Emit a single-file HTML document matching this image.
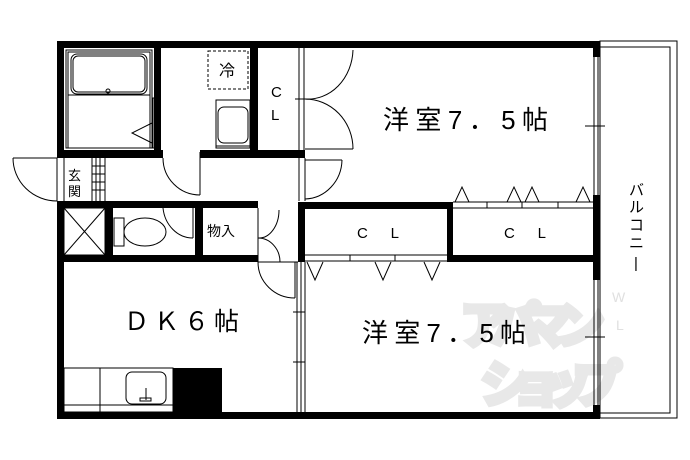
<!DOCTYPE html>
<html><head><meta charset="utf-8"><style>
html,body{margin:0;padding:0;background:#fff;}
svg{display:block;}
text{font-family:"Liberation Sans","Noto Sans CJK JP",sans-serif;fill:#000;}
</style></head><body>
<svg width="690" height="460" viewBox="0 0 690 460" xmlns="http://www.w3.org/2000/svg">
<!-- watermark -->
<g>
<text x="460" y="343" font-size="50" font-weight="bold" style="fill:#e8e8e8;stroke:#e8e8e8;stroke-width:5" textLength="145">アパマン</text>
<text x="480" y="402" font-size="50" font-weight="bold" style="fill:#e8e8e8;stroke:#e8e8e8;stroke-width:5" textLength="142">ショップ</text>
<text x="612" y="302" font-size="14" style="fill:#e0e0e0">W</text>
<text x="616" y="330" font-size="14" style="fill:#e0e0e0">L</text>
</g>
<!-- balcony -->
<rect x="600" y="41" width="77" height="377" fill="none" stroke="#000" stroke-width="1"/>
<rect x="600" y="47" width="70" height="366" fill="none" stroke="#000" stroke-width="1"/>
<g fill="#000">
<rect x="57" y="41" width="543" height="7"/>
<rect x="57" y="41" width="7" height="117"/>
<rect x="57" y="201" width="7" height="218"/>
<rect x="57" y="412" width="543" height="7"/>
<rect x="593" y="41" width="7" height="16"/>
<rect x="593" y="195" width="7" height="85"/>
<rect x="593" y="405" width="7" height="14"/>
<rect x="154" y="48" width="7" height="110"/>
<rect x="250" y="48" width="8" height="110"/>
<rect x="57" y="150" width="106" height="8"/>
<rect x="200" y="150" width="105" height="8"/>
<rect x="57" y="201" width="201" height="7"/>
<rect x="57" y="255" width="201" height="7"/>
<rect x="105" y="208" width="8" height="47"/>
<rect x="195" y="208" width="8" height="47"/>
<rect x="298" y="202" width="150" height="7"/>
<rect x="298" y="202" width="7" height="60"/>
<rect x="447" y="202" width="6" height="60"/>
<rect x="448" y="255" width="152" height="7"/>
<rect x="173" y="368" width="49" height="44"/>
</g>
<g fill="none" stroke="#000" stroke-width="1">
<line x1="594" y1="57" x2="594" y2="195"/><line x1="598" y1="57" x2="598" y2="195"/>
<line x1="594" y1="280" x2="594" y2="405"/><line x1="598" y1="280" x2="598" y2="405"/>
<line x1="585" y1="126" x2="605" y2="126"/><line x1="585" y1="337" x2="605" y2="337"/>
<rect x="66" y="50" width="86" height="98"/>
<rect x="68" y="52" width="82" height="96"/>
<rect x="71" y="54" width="76" height="40" rx="6"/>
<rect x="73" y="56" width="72" height="36" rx="5"/>
<circle cx="108" cy="91" r="2"/>
<line x1="68" y1="95" x2="150" y2="95"/>
<polyline points="152,123 132,133 152,143"/>
<rect x="153" y="98" width="4" height="50"/>
<rect x="208" y="51" width="40" height="38" stroke-dasharray="3,2"/>
<rect x="216" y="100" width="34" height="48"/>
<rect x="218" y="107" width="30" height="36" rx="6"/>
<line x1="216" y1="146" x2="250" y2="146"/>
<line x1="299" y1="48" x2="299" y2="150"/><line x1="304" y1="48" x2="304" y2="150"/>
<line x1="305" y1="99" x2="295" y2="99"/>
<path d="M305 99 A45 51 0 0 0 353 50"/>
<line x1="305" y1="149" x2="353" y2="149"/>
<path d="M305 99 A48 50 0 0 1 353 149"/>
<line x1="305" y1="158" x2="305" y2="201"/><line x1="299" y1="158" x2="299" y2="201"/>
<path d="M305 199 A38 40 0 0 0 342 160"/>
<line x1="305" y1="160" x2="342" y2="160"/>
<line x1="57" y1="158" x2="57" y2="201"/><line x1="64" y1="158" x2="64" y2="201"/>
<line x1="13" y1="158" x2="57" y2="158"/>
<path d="M13 158 A44 43 0 0 0 57 201"/>
<line x1="92" y1="158" x2="92" y2="201"/><line x1="96" y1="158" x2="96" y2="201"/><line x1="100" y1="158" x2="100" y2="201"/><line x1="105" y1="158" x2="105" y2="201"/>
<line x1="92" y1="166" x2="105" y2="166"/><line x1="92" y1="174" x2="105" y2="174"/><line x1="92" y1="182" x2="105" y2="182"/><line x1="92" y1="190" x2="105" y2="190"/>
<line x1="200" y1="152" x2="200" y2="195"/>
<path d="M163 158 A37 37 0 0 0 200 195"/>
<rect x="64" y="208" width="41" height="47"/>
<line x1="64" y1="208" x2="105" y2="255"/><line x1="105" y1="208" x2="64" y2="255"/>
<rect x="114" y="218" width="10" height="28"/>
<ellipse cx="145" cy="232" rx="21" ry="14"/>
<path d="M163 208 A30 34 0 0 0 193 238"/>
<line x1="193" y1="208" x2="193" y2="238"/>
<line x1="258" y1="208" x2="258" y2="262"/>
<path d="M258 238 A20 28 0 0 0 279 210"/>
<path d="M258 238 A22 24 0 0 1 280 262"/>
<line x1="453" y1="202" x2="593" y2="202"/><line x1="453" y1="208" x2="593" y2="208"/>
<line x1="487" y1="202" x2="487" y2="208"/><line x1="522" y1="202" x2="522" y2="208"/><line x1="558" y1="202" x2="558" y2="208"/>
<polyline points="455,202 462,187 469,202"/><polyline points="507,202 514,187 521,202"/><polyline points="525,202 532,187 539,202"/><polyline points="576,202 583,187 590,202"/>
<line x1="305" y1="255" x2="447" y2="255"/><line x1="305" y1="261" x2="447" y2="261"/>
<line x1="350" y1="255" x2="350" y2="261"/><line x1="395" y1="255" x2="395" y2="261"/>
<polyline points="307,262 315,280 323,262"/><polyline points="375,262 383,280 391,262"/><polyline points="424,262 432,280 440,262"/>
<line x1="297" y1="262" x2="297" y2="412"/><line x1="301" y1="262" x2="301" y2="412"/><line x1="305" y1="262" x2="305" y2="412"/>
<line x1="293" y1="312" x2="305" y2="312"/><line x1="293" y1="362" x2="305" y2="362"/>
<line x1="258" y1="262" x2="298" y2="262"/>
<line x1="295" y1="262" x2="295" y2="298"/>
<path d="M258 262 A37 36 0 0 0 295 298"/>
<rect x="64" y="368" width="109" height="44"/>
<line x1="100" y1="368" x2="100" y2="412"/>
<line x1="64" y1="405" x2="173" y2="405"/>
<rect x="126" y="372" width="40" height="32" rx="6"/>
<line x1="146" y1="388" x2="146" y2="400"/><rect x="140" y="398" width="11" height="3"/>
</g>
<text x="219" y="76" font-size="16">冷</text>
<text x="271" y="97" font-size="15">C</text>
<text x="271" y="120" font-size="15">L</text>
<text x="68" y="180" font-size="13">玄</text>
<text x="68" y="196" font-size="13">関</text>
<text x="207" y="236" font-size="14">物入</text>
<text x="383" y="129" font-size="26" textLength="165" lengthAdjust="spacing">洋室7．5帖</text>
<text x="362" y="342" font-size="26" textLength="164" lengthAdjust="spacing">洋室7．5帖</text>
<text x="124" y="330" font-size="25" textLength="115" lengthAdjust="spacing">ＤＫ６帖</text>
<text x="357" y="238" font-size="15" textLength="42" lengthAdjust="spacing">CL</text>
<text x="504" y="238" font-size="15" textLength="42" lengthAdjust="spacing">CL</text>
<g font-size="15">
<text x="629" y="195">バ</text>
<text x="629" y="212">ル</text>
<text x="629" y="230">コ</text>
<text x="629" y="248">ニ</text>
<text x="634" y="268">|</text>
</g>
</svg>
</body></html>
